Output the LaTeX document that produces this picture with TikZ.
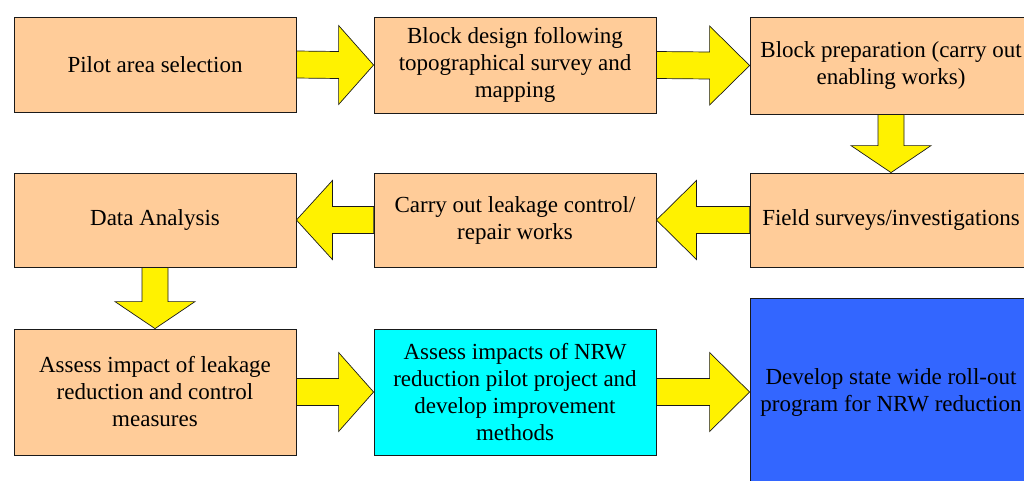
\documentclass[tikz,border=0pt]{standalone}
\usepackage{fontspec}
\setmainfont{Liberation Serif}
\usetikzlibrary{calc}
\definecolor{peach}{HTML}{FFCC99}
\definecolor{aqua}{HTML}{00FFFF}
\definecolor{royal}{HTML}{3366FF}
\definecolor{edge}{HTML}{1A1A1A}
\begin{document}
\begin{tikzpicture}[x=1pt,y=-1pt,
  box/.style={draw=edge, line width=0.8pt, minimum width=282pt, inner sep=0pt,
    align=center, text=black, font=\fontsize{23}{27}\selectfont},
  blockarrow/.style={fill=yellow, draw=edge, line width=0.7pt, line join=miter},
  % block arrow pointing right, head length #1
  rblock/.style={blockarrow, to path={
    -- ($(\tikztostart)+(0,-13.5)$) -- ($(\tikztotarget)+(-#1,-13.5)$)
    -- ($(\tikztotarget)+(-#1,-39.5)$) -- (\tikztotarget)
    -- ($(\tikztotarget)+(-#1,39.5)$) -- ($(\tikztotarget)+(-#1,13.5)$)
    -- ($(\tikztostart)+(0,13.5)$) -- cycle}},
  % block arrow pointing left, head length #1
  lblock/.style={blockarrow, to path={
    -- ($(\tikztostart)+(0,-13.5)$) -- ($(\tikztotarget)+(#1,-13.5)$)
    -- ($(\tikztotarget)+(#1,-39.5)$) -- (\tikztotarget)
    -- ($(\tikztotarget)+(#1,39.5)$) -- ($(\tikztotarget)+(#1,13.5)$)
    -- ($(\tikztostart)+(0,13.5)$) -- cycle}},
  % block arrow pointing down, head length #1
  dblock/.style={blockarrow, to path={
    -- ($(\tikztostart)+(13,0)$) -- ($(\tikztotarget)+(13,-#1)$)
    -- ($(\tikztotarget)+(40,-#1)$) -- (\tikztotarget)
    -- ($(\tikztotarget)+(-40,-#1)$) -- ($(\tikztotarget)+(-13,-#1)$)
    -- ($(\tikztostart)+(-13,0)$) -- cycle}}
]
\useasboundingbox (0,0) rectangle (1024,480);
\clip (0,0) rectangle (1024,480);

% first row
\node[box, fill=peach, minimum height=95pt] (b1) at (155,64.5) {Pilot area selection};
\node[box, fill=peach, minimum height=96pt] (b2) at (515,65) {Block design following\\topographical survey and\\mapping};
\node[box, fill=peach, minimum height=97pt] (b3) at (891,65.5) {Block preparation (carry out\\enabling works)};

% second row
\node[box, fill=peach, minimum height=94pt] (b4) at (155,220) {Data Analysis};
\node[box, fill=peach, minimum height=94pt] (b5) at (515,220) {Carry out leakage control/\\repair works};
\node[box, fill=peach, minimum height=94pt] (b6) at (891,220) {Field surveys/investigations};

% third row
\node[box, fill=peach, minimum height=126pt] (b7) at (155,392) {Assess impact of leakage\\reduction and control\\measures};
\node[box, fill=aqua, minimum height=126pt] (b8) at (515,392) {Assess impacts of NRW\\reduction pilot project and\\develop improvement\\methods};
\node[box, fill=royal, minimum height=188pt] (b9) at (891,392) {Develop state wide roll-out\\program for NRW reduction};

% flow arrows
\draw[rblock=35] (b1.east) to (b2.west);
\draw[rblock=40] (b2.east) to (b3.west);
\draw[dblock=27] (b3.south) to (b6.north);
\draw[lblock=40] (b6.west) to (b5.east);
\draw[lblock=36] (b5.west) to (b4.east);
\draw[dblock=27] (b4.south) to (b7.north);
\draw[rblock=35] (b7.east) to (b8.west);
\draw[rblock=40] (b8.east) to (b9.west);
\end{tikzpicture}
\end{document}
